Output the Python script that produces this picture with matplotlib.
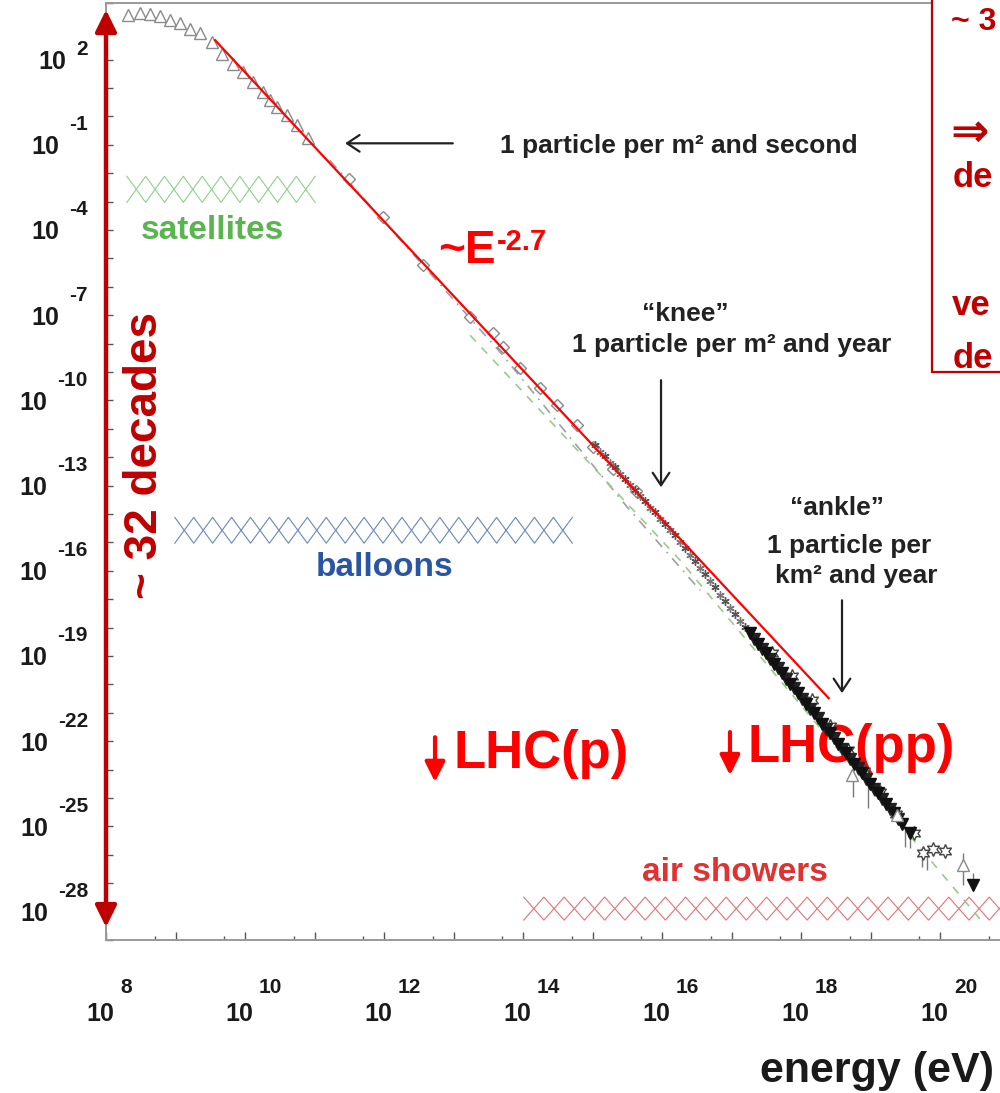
import matplotlib
matplotlib.use("Agg")
import matplotlib.pyplot as plt
import numpy as np
from matplotlib.patches import Rectangle, FancyArrowPatch, ArrowStyle
from matplotlib.ticker import FixedLocator, NullLocator

plt.rcParams["font.family"] = ["Liberation Sans", "DejaVu Sans"]

PT = 72 / 100  # px -> points at dpi 100

# ---- data (log10 energy [eV], log10 flux) ----
TRI_LOGE = [8.32, 8.49, 8.63, 8.78, 8.92, 9.07, 9.21, 9.35, 9.53, 9.67,
            9.83, 9.97, 10.12, 10.26, 10.36, 10.46, 10.60, 10.75, 10.91]
TRI_LOGF = [3.56, 3.64, 3.60, 3.52, 3.40, 3.27, 3.09, 2.92, 2.62, 2.21,
            1.86, 1.56, 1.21, 0.85, 0.56, 0.33, 0.04, -0.31, -0.78]

DIA_LOGE = [11.50, 11.99, 12.56, 13.24, 13.57, 13.71, 13.96, 14.25, 14.49, 14.78, 15.01, 15.30, 15.62]
DIA_LOGF = [-2.22, -3.55, -5.24, -7.07, -7.64, -8.13, -8.87, -9.57, -10.17, -10.88, -11.65, -12.40, -13.20]

AST_LOGE = [15.04, 15.18, 15.32, 15.47, 15.61, 15.76, 15.90, 16.04,
            16.19, 16.33, 16.48, 16.62, 16.76, 16.91, 17.05, 17.19]
AST_LOGF = [-11.58, -11.96, -12.35, -12.77, -13.16, -13.54, -13.93, -14.35,
            -14.74, -15.20, -15.66, -16.11, -16.57, -17.06, -17.52, -17.98]
AST2_LOGE = [15.11, 15.25, 15.40, 15.54, 15.68, 15.83, 15.97, 16.11,
             16.26, 16.40, 16.55, 16.69, 16.84, 16.98, 17.12]
AST2_LOGF = [-11.82, -12.20, -12.60, -12.98, -13.38, -13.78, -14.16, -14.58,
             -15.00, -15.44, -15.90, -16.36, -16.84, -17.30, -17.76]

BTRI_LOGE = [17.27, 17.38, 17.50, 17.61, 17.73, 17.84, 17.96, 18.07, 18.19, 18.30, 18.42,
             18.53, 18.65, 18.76, 18.88, 18.99, 19.11, 19.22, 19.34, 19.45, 19.57, 20.48]
BTRI_LOGF = [-18.20, -18.57, -18.88, -19.27, -19.60, -19.98, -20.30, -20.68, -21.00, -21.39, -21.70,
             -22.09, -22.40, -22.80, -23.11, -23.50, -23.82, -24.21, -24.52, -24.91, -25.22, -27.08]
BTRI2_LOGE = [17.33, 17.44, 17.56, 17.67, 17.79, 17.90, 18.02, 18.13, 18.25, 18.36,
              18.48, 18.59, 18.71, 18.82, 18.94, 19.05, 19.17, 19.28, 19.40]
BTRI2_LOGF = [-18.42, -18.76, -19.10, -19.44, -19.80, -20.14, -20.50, -20.86, -21.20, -21.56,
              -21.90, -22.26, -22.62, -22.96, -23.32, -23.68, -24.02, -24.38, -24.74]

STAR_LOGE = [17.58, 17.87, 18.16, 18.42, 18.68, 18.91, 19.14, 19.37, 19.63, 19.76, 19.90, 20.07]
STAR_LOGF = [-18.90, -19.72, -20.55, -21.45, -22.30, -23.05, -23.80, -24.55, -25.25, -25.92, -25.78, -25.85]

OTRI_LOGE = [18.73, 19.38, 20.33]
OTRI_LOGF = [-23.20, -24.61, -26.37]

ERR_LOGE = [18.75, 18.96, 19.50, 19.57, 19.74, 19.81, 20.33, 20.48]
ERR_LO = [-23.97, -24.36, -25.73, -25.77, -26.44, -26.55, -27.08, -27.08]
ERR_HI = [-22.92, -23.27, -25.14, -25.24, -25.84, -25.95, -25.95, -26.65]

GRAY_FIT_LOGE = [11.22, 13.67, 15.50, 16.55]
GRAY_FIT_LOGF = [-1.55, -8.30, -13.76, -16.69]
GREEN_FIT_LOGE = [13.24, 16.26, 17.70, 19.90, 20.65]
GREEN_FIT_LOGF = [-7.71, -15.63, -19.86, -26.30, -28.48]

POWER_LOGE = [9.57, 18.40]
POWER_LOGF = [2.68, -20.49]

# detector bands: (logE0, logE1, logF0, logF1, cells)
SAT_BAND = (8.30, 11.01, -3.03, -2.11, 10)
BAL_BAND = (8.99, 14.71, -15.03, -14.12, 21)
AIR_BAND = (14.01, 21.0, -28.30, -27.49, 24)

X_LABEL_EXP = [8, 10, 12, 14, 16, 18, 20]
Y_LABEL_EXP = [2, -1, -4, -7, -10, -13, -16, -19, -22, -25, -28]

DARK_RED = "#c00000"


def pw(a):
    return 10.0 ** np.asarray(a, dtype=float)


def draw_band(ax, band, color):
    x0, x1, y0, y1, n = band
    xs = np.linspace(x0, x1, n + 1)
    even = np.arange(xs.size) % 2 == 0
    ax.plot(pw(xs), pw(np.where(even, y0, y1)), color=color, lw=0.8, zorder=2)
    ax.plot(pw(xs), pw(np.where(even, y1, y0)), color=color, lw=0.8, zorder=2)


def arrow(ax, tip, tail, color, lw, style, ms=20):
    ax.annotate("", xy=tip, xytext=tail, xycoords="data",
                arrowprops=dict(arrowstyle=style, color=color, lw=lw,
                                shrinkA=0, shrinkB=0, mutation_scale=ms),
                zorder=6, annotation_clip=False)


fig = plt.figure(figsize=(10, 10.93), dpi=100)
ax = fig.add_axes([0.106, 0.1400, 0.9035, 0.8575])
ax.set_xscale("log")
ax.set_yscale("log")
ax.set_xlim(1e8, 1e21)
ax.set_ylim(1e-29, 1e4)

ax.xaxis.set_major_locator(FixedLocator(pw(np.arange(8, 22))))
ax.xaxis.set_minor_locator(FixedLocator(5 * pw(np.arange(8, 21))))
ax.yaxis.set_major_locator(FixedLocator(pw(np.arange(-29, 5))))
ax.yaxis.set_minor_locator(NullLocator())
ax.tick_params(which="both", direction="in", labelbottom=False, labelleft=False, color="#555555")
ax.tick_params(axis="x", which="major", length=6, width=1)
ax.tick_params(axis="x", which="minor", length=3, width=1)
ax.tick_params(axis="y", which="major", length=5, width=1)
for s in ax.spines.values():
    s.set_color("#9a9a9a")
    s.set_linewidth(1.4)

# hatched detector ranges
draw_band(ax, SAT_BAND, "#8fcf8f")
draw_band(ax, BAL_BAND, "#6a86bc")
draw_band(ax, AIR_BAND, "#e87078")
ax.text(pw(9.525), pw(-4.01), "satellites", color="#5ab450", fontsize=24,
        fontweight="bold", ha="center", va="center")
ax.text(pw(12.014), pw(-15.88), "balloons", color="#2a55a0", fontsize=24,
        fontweight="bold", ha="center", va="center")
ax.text(pw(17.05), pw(-26.62), "air showers", color="#e03232", fontsize=24,
        fontweight="bold", ha="center", va="center")

# fits
ax.plot(pw(GRAY_FIT_LOGE), pw(GRAY_FIT_LOGF), color="#a0a0a0", lw=1.2, ls=(0, (6, 4, 1, 4)), zorder=3)
ax.plot(pw(GREEN_FIT_LOGE), pw(GREEN_FIT_LOGF), color="#9acb8e", lw=1.2, ls=(0, (5, 5)), zorder=3)

# measurements
ax.plot(pw(TRI_LOGE), pw(TRI_LOGF), ls="none", marker="^", ms=8, mfc="white", mec="#8a8a8a", mew=1, zorder=4)
ax.plot(pw(DIA_LOGE), pw(DIA_LOGF), ls="none", marker="D", ms=6, mfc="white", mec="#8a8a8a", mew=1, zorder=4)
ax.plot(pw(AST_LOGE), pw(AST_LOGF), ls="none", marker=(6, 2, 0), ms=6, color="#555555", mew=1, zorder=4)
ax.plot(pw(AST2_LOGE), pw(AST2_LOGF), ls="none", marker=(6, 2, 0), ms=6, color="#777777", mew=1, zorder=4)
ax.vlines(pw(ERR_LOGE), pw(ERR_LO), pw(ERR_HI), color="#777777", lw=1, zorder=4)
ax.plot(pw(STAR_LOGE), pw(STAR_LOGF), ls="none", marker=(6, 1, 0), ms=10, mfc="white", mec="#444444", mew=1, zorder=4)
ax.plot(pw(BTRI2_LOGE), pw(BTRI2_LOGF), ls="none", marker="v", ms=8, color="#222222", zorder=4)
ax.plot(pw(BTRI_LOGE), pw(BTRI_LOGF), ls="none", marker="v", ms=8, color="#111111", zorder=4)
ax.plot(pw(OTRI_LOGE), pw(OTRI_LOGF), ls="none", marker="^", ms=9, mfc="white", mec="#8a8a8a", mew=1, zorder=4)

# power law
ax.plot(pw(POWER_LOGE), pw(POWER_LOGF), color="red", lw=1.6, zorder=5)
ax.text(pw(12.777), pw(-5.17), "~E", color="red", fontsize=33, fontweight="bold", ha="left", va="baseline")
ax.text(pw(13.626), pw(-4.71), "-2.7", color="red", fontsize=21, fontweight="bold", ha="left", va="baseline")

# annotations
txt = dict(color="#222222", fontsize=19, fontweight="bold")
ax.text(pw(13.669), pw(-1.05), "1 particle per m² and second", ha="left", va="center", **txt)
arrow(ax, (pw(11.44), pw(-0.95)), (pw(12.99), pw(-0.95)), "#222222", 1.6, ArrowStyle("->", head_length=0.45, head_width=0.3))
ax.text(pw(16.331), pw(-6.97), "\u201cknee\u201d", ha="center", va="center", **txt)
ax.text(pw(17.007), pw(-8.06), "1 particle per m² and year", ha="center", va="center", **txt)
arrow(ax, (pw(15.986), pw(-13.06)), (pw(15.986), pw(-9.29)), "#222222", 1.6, ArrowStyle("->", head_length=0.45, head_width=0.3))
ax.text(pw(18.518), pw(-13.80), "\u201cankle\u201d", ha="center", va="center", **txt)
ax.text(pw(18.691), pw(-15.14), "1 particle per", ha="center", va="center", **txt)
ax.text(pw(18.791), pw(-16.19), "km² and year", ha="center", va="center", **txt)
arrow(ax, (pw(18.59), pw(-20.31)), (pw(18.59), pw(-17.04)), "#222222", 1.6, ArrowStyle("->", head_length=0.45, head_width=0.3))

# LHC markers
ax.text(pw(12.993), pw(-22.95), "LHC(p)", color="red", fontsize=38, fontweight="bold", ha="left", va="baseline", zorder=3)
arrow(ax, (pw(12.734), pw(-23.44)), (pw(12.734), pw(-21.86)), "red", 3, ArrowStyle("-|>", head_length=0.6, head_width=0.3))
ax.text(pw(17.237), pw(-22.74), "LHC(pp)", color="red", fontsize=38, fontweight="bold", ha="left", va="baseline", zorder=3)
arrow(ax, (pw(16.978), pw(-23.20)), (pw(16.978), pw(-21.68)), "red", 3, ArrowStyle("-|>", head_length=0.6, head_width=0.3))

# ~32 decades double arrow
span = FancyArrowPatch((1e8, pw(3.75)), (1e8, pw(-28.55)),
                       arrowstyle=ArrowStyle("<|-|>", head_length=0.65, head_width=0.32),
                       mutation_scale=20, color=DARK_RED, lw=3.2, clip_on=False, zorder=7,
                       shrinkA=0, shrinkB=0)
ax.add_patch(span)
ax.text(pw(8.56), pw(-11.93), "~ 32 decades", color=DARK_RED, fontsize=33, fontweight="bold",
        rotation=90, ha="center", va="center")

# tick labels drawn as "10" + raised exponent
lab = dict(fontweight="bold", color="#1a1a1a")
for k in X_LABEL_EXP:
    ax.annotate("10", xy=(10.0 ** k, 0), xycoords=ax.get_xaxis_transform(),
                xytext=(8 * PT, -74 * PT), textcoords="offset points",
                ha="right", va="center", fontsize=18, annotation_clip=False, **lab)
    ax.annotate(str(k), xy=(10.0 ** k, 0), xycoords=ax.get_xaxis_transform(),
                xytext=(14 * PT, -48 * PT), textcoords="offset points",
                ha="left", va="center", fontsize=15, annotation_clip=False, **lab)
for k in Y_LABEL_EXP:
    rise = 10 if k > 0 else 20
    e = ax.annotate(str(k), xy=(0, 10.0 ** k), xycoords=ax.get_yaxis_transform(),
                    xytext=(-18 * PT, rise * PT), textcoords="offset points",
                    ha="right", va="center", fontsize=15, annotation_clip=False, **lab)
    ax.annotate("10", xy=(0, 10.0 ** k), xycoords=(e, "data"),
                xytext=(-10 * PT, -2.5 * PT), textcoords="offset points",
                ha="right", va="center", fontsize=18, annotation_clip=False, **lab)

fig.text(0.760, 0.0101, "energy (eV)", fontsize=31, fontweight="bold", color="#1a1a1a",
         ha="left", va="baseline")

# red summary box, cut by the right edge; only the visible start of each line is kept
fig.add_artist(Rectangle((0.932, 0.6597), 0.3, 0.5, transform=fig.transFigure,
                         facecolor="white", edgecolor=DARK_RED, lw=1.6, zorder=10))
box = dict(color=DARK_RED, fontsize=25, fontweight="bold", ha="left", zorder=11)
fig.text(0.951, 0.9726, "~ 3", va="baseline", **{**box, "fontsize": 23})
fig.text(0.950, 0.8783, "\u21d2", va="center", family="DejaVu Sans", **{**box, "fontsize": 33})
fig.text(0.953, 0.8289, "de", va="baseline", **box)
fig.text(0.952, 0.7118, "ve", va="baseline", **box)
fig.text(0.953, 0.6633, "de", va="baseline", **box)

fig.savefig("out.png", dpi=100)
